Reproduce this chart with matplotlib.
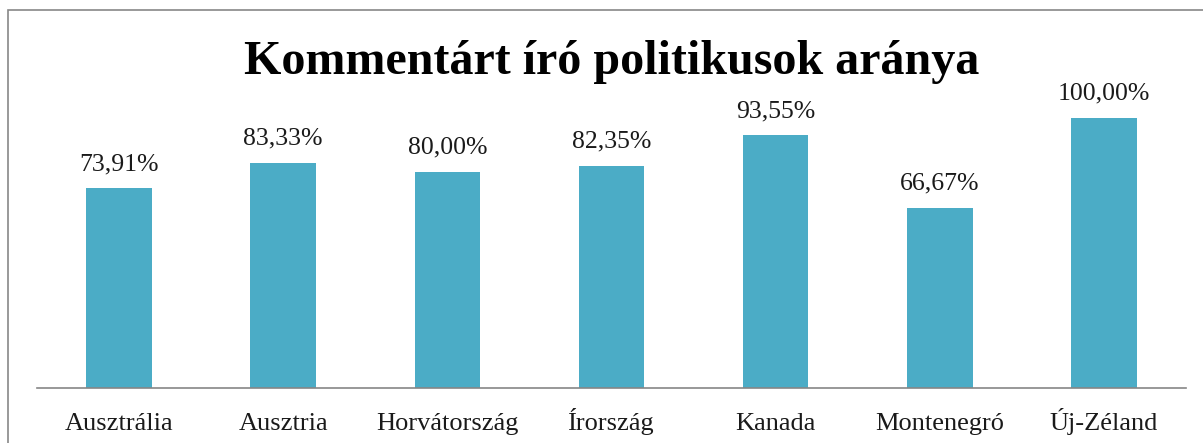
import matplotlib
matplotlib.use("Agg")
import matplotlib.pyplot as plt
from matplotlib.patches import Rectangle

categories = ["Ausztrália", "Ausztria", "Horvátország", "Írország", "Kanada", "Montenegró", "Új-Zéland"]
values = [73.91, 83.33, 80.00, 82.35, 93.55, 66.67, 100.00]
title = "Kommentárt író politikusok aránya"

plt.rcParams['font.family'] = ['Liberation Serif', 'DejaVu Serif']

W, H = 1203, 443
fig = plt.figure(figsize=(W/100, H/100), dpi=100)
ax = fig.add_axes([37/W, 1-387.5/H, (1186-37)/W, (387.5-64.1)/H])

x = range(len(categories))
ax.bar(x, values, width=0.40, color="#4BACC6")
ax.set_xlim(-0.5, len(categories)-0.5)
ax.set_ylim(0, 120)

for i, v in enumerate(values):
    ax.annotate(f"{v:.2f}%".replace(".", ","), (i, v), xytext=(0, 13),
                textcoords="offset points", ha="center", va="baseline",
                fontsize=18.5, color="#1a1a1a")

ax.set_xticks(list(x))
ax.set_xticklabels(categories, fontsize=19, color="#1a1a1a")
for lbl in ax.get_xticklabels():
    lbl.set_va("baseline")
ax.tick_params(axis='x', length=0, pad=30.5)
ax.set_yticks([])
for s in ["top", "right", "left"]:
    ax.spines[s].set_visible(False)
ax.spines["bottom"].set_color("#868686")
ax.spines["bottom"].set_linewidth(1.2)

fig.text((37+1186)/2/W, 1-74.3/H, title, ha="center", va="baseline",
         fontsize=34.6, fontweight="bold", color="black")

fig.patches.append(Rectangle((8/W, -0.1), 1.2, (H-10.5)/H + 0.1, transform=fig.transFigure,
                             fill=False, edgecolor="#888888", linewidth=1.2))

fig.savefig("out.png", dpi=100)
